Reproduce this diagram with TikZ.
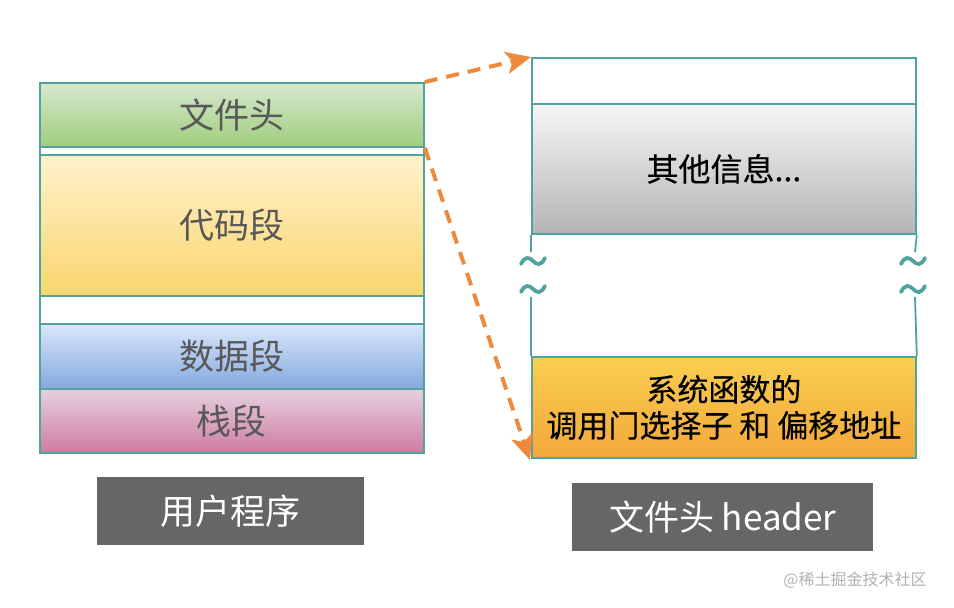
\documentclass[tikz,border=0pt]{standalone}
\usepackage{fontspec}
\setmainfont{Noto Sans CJK SC}
\newfontfamily\heavycjk[FakeBold=0.35]{Noto Sans CJK SC}
\usetikzlibrary{arrows.meta,calc}
\definecolor{bord}{RGB}{82,163,160}
\definecolor{arrc}{RGB}{238,138,60}
\definecolor{txtg}{RGB}{88,88,88}
\definecolor{lblbg}{RGB}{102,102,102}
\tikzset{
  seg/.style={draw=bord, line width=1.8pt, minimum width=384pt, inner sep=0pt, anchor=north west, align=center},
  lefttxt/.style={text=txtg, font=\fontsize{35}{40}\selectfont},
  righttxt/.style={text=black, font=\heavycjk\fontsize{31}{36}\selectfont},
  lbl/.style={fill=lblbg, text=white, inner sep=0pt, anchor=north west, font=\fontsize{35}{40}\selectfont},
  arr/.style={draw=arrc, line width=4pt, dash pattern=on 13pt off 9pt, -{Stealth[length=25pt,width=22pt,inset=6pt,fill=arrc]}},
  sideline/.style={draw=bord, line width=1.8pt},
  tildemark/.pic={\draw[bord, line width=3.8pt, line cap=round] (-12,3) .. controls (-8,-5) and (-4,-4) .. (0,0) .. controls (4,4) and (8,5) .. (12,-3);}
}
\begin{document}
\begin{tikzpicture}[x=1pt,y=-1pt]
\useasboundingbox[fill=white] (0,0) rectangle (954,608);
% left column
\node[seg, lefttxt, minimum height=64pt, top color={rgb,255:red,214;green,232;blue,206}, bottom color={rgb,255:red,160;green,206;blue,126}] (lhead) at (39,82) {文件头};
\node[seg, minimum height=8pt, fill=white] (lgap1) at (39,146) {};
\node[seg, lefttxt, minimum height=141pt, top color={rgb,255:red,255;green,241;blue,204}, bottom color={rgb,255:red,250;green,214;blue,110}] (lcode) at (39,154) {代码段};
\node[seg, minimum height=28pt, fill=white] (lgap2) at (39,295) {};
\node[seg, lefttxt, minimum height=65pt, top color={rgb,255:red,218;green,232;blue,252}, bottom color={rgb,255:red,132;green,168;blue,222}] (ldata) at (39,323) {数据段};
\node[seg, lefttxt, minimum height=64pt, top color={rgb,255:red,230;green,208;blue,222}, bottom color={rgb,255:red,206;green,124;blue,162}] (lstack) at (39,388) {栈段};
% right column
\node[seg, minimum height=46pt, fill=white] (rtop) at (531,57) {};
\node[seg, righttxt, font=\heavycjk\fontsize{32}{36}\selectfont, minimum height=130pt, top color={rgb,255:red,246;green,246;blue,246}, bottom color={rgb,255:red,180;green,180;blue,180}] (rinfo) at (531,103) {其他信息...};
\node[seg, righttxt, minimum height=101pt, top color={rgb,255:red,249;green,206;blue,80}, bottom color={rgb,255:red,243;green,168;blue,58}] (rsys) at (531,356) {系统函数的\\调用门选择子 和 偏移地址};
% broken side lines
\coordinate (la) at (531,252);
\coordinate (lb) at (531,297);
\coordinate (ra) at (915,252);
\coordinate (rb) at (915,297);
\draw[sideline] (rinfo.south west) -- (la);
\draw[sideline] (lb) -- (rsys.north west);
\draw[sideline] (rinfo.south east) -- (ra);
\draw[sideline] (rb) -- (rsys.north east);
\pic at (533,261) {tildemark};
\pic at (533,289) {tildemark};
\pic at (913,261) {tildemark};
\pic at (913,289) {tildemark};
% arrows
\coordinate (t2) at (530,460);
\draw[arr] (lhead.north east) -- (rtop.north west);
\draw[arr] (lhead.south east) -- (t2);
% labels
\node[lbl, minimum width=267pt, minimum height=68pt] (lbl1) at (97,477) {用户程序};
\node[lbl, minimum width=301pt, minimum height=68pt] (lbl2) at (572,483) {文件头 header};
% watermark
\node[text=black!30, font=\fontsize{16}{18}\selectfont, inner sep=0pt] (wm) at (855,580) {@稀土掘金技术社区};
\end{tikzpicture}
\end{document}
